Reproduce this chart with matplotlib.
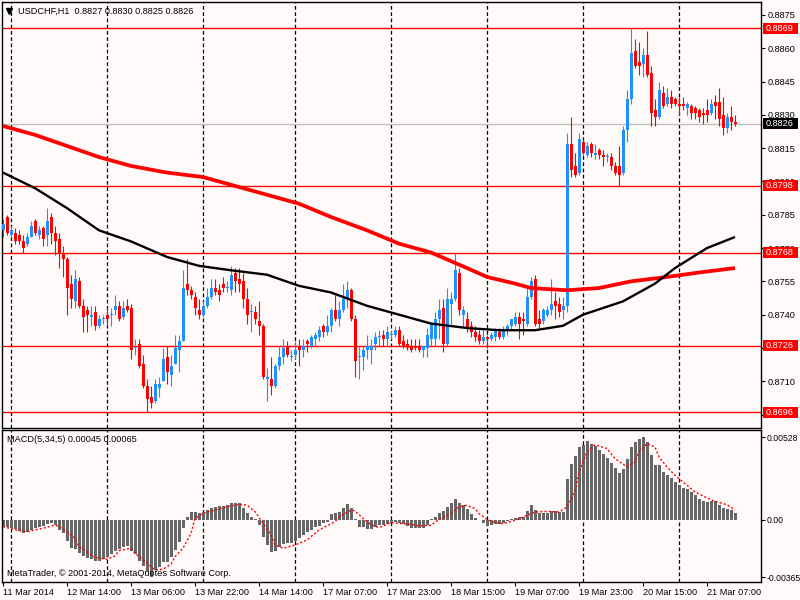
import matplotlib
matplotlib.use("Agg")
import matplotlib.pyplot as plt
from matplotlib.patches import Rectangle
import matplotlib.transforms as mtransforms
import numpy as np

plt.rcParams['font.family'] = ['Liberation Sans', 'DejaVu Sans']

# ---------------- data ----------------
opens = [0.8778,0.8784,0.8776,0.8777,0.8776,0.8773,0.8772,0.8775,0.8782,0.8776,
         0.8779,0.8776,0.8784,0.8777,0.8774,0.8768,0.8765,0.8754,0.8746,0.8755,
         0.8744,0.8742,0.8739,0.8741,0.8735,0.8738,0.8740,0.8740,0.8742,0.8744,
         0.8739,0.8744,0.8743,0.8725,0.8727,0.8718,0.8708,0.8703,0.8701,0.8707,
         0.8710,0.8721,0.8713,0.8718,0.8724,0.8728,0.8754,0.8751,0.8748,0.8742,
         0.8740,0.8744,0.8748,0.8752,0.8751,0.8754,0.8752,0.8751,0.8759,0.8756,
         0.8755,0.8747,0.8741,0.8741,0.8737,0.8735,0.8711,0.8711,0.8708,0.8717,
         0.8721,0.8726,0.8721,0.8722,0.8726,0.8724,0.8728,0.8726,0.8729,0.8730,
         0.8735,0.8732,0.8735,0.8742,0.8738,0.8742,0.8747,0.8751,0.8738,0.8721,
         0.8721,0.8724,0.8724,0.8727,0.8730,0.8731,0.8729,0.8731,0.8731,0.8733,
         0.8728,0.8727,0.8726,0.8726,0.8726,0.8724,0.8725,0.8729,0.8729,0.8738,
         0.8743,0.8727,0.8745,0.8747,0.8759,0.8740,0.8738,0.8735,0.8732,0.8731,
         0.8728,0.8730,0.8729,0.8730,0.8732,0.8730,0.8733,0.8735,0.8736,0.8739,
         0.8738,0.8736,0.8748,0.8756,0.8738,0.8737,0.8740,0.8742,0.8746,0.8745,
         0.8742,0.8744,0.8817,0.8807,0.8804,0.8818,0.8812,0.8817,0.8812,0.8814,
         0.8812,0.8811,0.8811,0.8807,0.8807,0.8804,0.8823,0.8837,0.8859,0.8854,
         0.8853,0.8857,0.8849,0.8832,0.8829,0.8840,0.8835,0.8838,0.8837,0.8835,
         0.8835,0.8833,0.8834,0.8833,0.8832,0.8831,0.8832,0.8831,0.8836,0.8836,
         0.8830,0.8824,0.8829,0.8827]
highs = [0.8783,0.8785,0.8780,0.8779,0.8778,0.8776,0.8777,0.8782,0.8783,0.8780,
         0.8780,0.8788,0.8786,0.8780,0.8777,0.8771,0.8766,0.8758,0.8760,0.8757,
         0.8747,0.8744,0.8744,0.8744,0.8740,0.8740,0.8743,0.8743,0.8749,0.8746,
         0.8746,0.8747,0.8745,0.8729,0.8729,0.8722,0.8711,0.8708,0.8711,0.8712,
         0.8725,0.8726,0.8722,0.8731,0.8731,0.8760,0.8765,0.8753,0.8750,0.8747,
         0.8746,0.8752,0.8756,0.8756,0.8754,0.8757,0.8755,0.8762,0.8761,0.8761,
         0.8759,0.8752,0.8745,0.8744,0.8746,0.8736,0.8716,0.8721,0.8718,0.8726,
         0.8729,0.8728,0.8724,0.8728,0.8729,0.8729,0.8729,0.8731,0.8732,0.8735,
         0.8736,0.8740,0.8743,0.8749,0.8746,0.8754,0.8755,0.8752,0.8740,0.8726,
         0.8726,0.8731,0.8729,0.8732,0.8733,0.8733,0.8735,0.8733,0.8735,0.8735,
         0.8731,0.8729,0.8729,0.8729,0.8729,0.8726,0.8734,0.8736,0.8741,0.8747,
         0.8747,0.8752,0.8750,0.8768,0.8761,0.8744,0.8741,0.8737,0.8735,0.8733,
         0.8733,0.8731,0.8732,0.8734,0.8734,0.8735,0.8736,0.8738,0.8741,0.8741,
         0.8741,0.8753,0.8757,0.8758,0.8742,0.8743,0.8744,0.8756,0.8750,0.8748,
         0.8748,0.8822,0.8829,0.8813,0.8822,0.8819,0.8818,0.8818,0.8817,0.8815,
         0.8814,0.8813,0.8813,0.8809,0.8816,0.8825,0.8841,0.8869,0.8864,0.8863,
         0.8860,0.8868,0.8852,0.8837,0.8845,0.8843,0.8842,0.8841,0.8838,0.8838,
         0.8838,0.8836,0.8835,0.8834,0.8833,0.8833,0.8837,0.8837,0.8839,0.8842,
         0.8838,0.8831,0.8834,0.8830]
lows = [0.8775,0.8776,0.8775,0.8772,0.8772,0.8768,0.8771,0.8775,0.8776,0.8774,
        0.8771,0.8771,0.8772,0.8767,0.8761,0.8757,0.8740,0.8743,0.8743,0.8743,
        0.8732,0.8732,0.8735,0.8733,0.8734,0.8736,0.8735,0.8735,0.8740,0.8737,
        0.8738,0.8741,0.8720,0.8722,0.8716,0.8707,0.8696,0.8698,0.8700,0.8703,
        0.8710,0.8709,0.8708,0.8718,0.8714,0.8728,0.8749,0.8747,0.8740,0.8738,
        0.8739,0.8743,0.8747,0.8749,0.8746,0.8750,0.8750,0.8749,0.8750,0.8750,
        0.8743,0.8736,0.8732,0.8736,0.8731,0.8711,0.8701,0.8704,0.8707,0.8715,
        0.8718,0.8721,0.8719,0.8720,0.8717,0.8721,0.8723,0.8725,0.8726,0.8728,
        0.8730,0.8731,0.8732,0.8737,0.8735,0.8741,0.8743,0.8737,0.8712,0.8711,
        0.8715,0.8720,0.8718,0.8724,0.8726,0.8726,0.8726,0.8729,0.8730,0.8726,
        0.8725,0.8724,0.8723,0.8724,0.8723,0.8721,0.8721,0.8726,0.8726,0.8729,
        0.8723,0.8726,0.8736,0.8746,0.8740,0.8735,0.8732,0.8730,0.8728,0.8727,
        0.8727,0.8725,0.8728,0.8728,0.8729,0.8729,0.8731,0.8733,0.8735,0.8729,
        0.8731,0.8735,0.8747,0.8735,0.8734,0.8736,0.8739,0.8740,0.8738,0.8739,
        0.8738,0.8741,0.8802,0.8802,0.8803,0.8812,0.8811,0.8811,0.8810,0.8810,
        0.8807,0.8809,0.8805,0.8803,0.8798,0.8803,0.8818,0.8835,0.8851,0.8848,
        0.8847,0.8847,0.8825,0.8825,0.8828,0.8833,0.8834,0.8833,0.8834,0.8830,
        0.8832,0.8830,0.8828,0.8828,0.8827,0.8826,0.8827,0.8830,0.8828,0.8825,
        0.8821,0.8822,0.8823,0.8825]
closes = [0.8781,0.8777,0.8778,0.8773,0.8773,0.8770,0.8775,0.8780,0.8777,0.8778,
          0.8774,0.8782,0.8777,0.8773,0.8768,0.8765,0.8752,0.8747,0.8756,0.8744,
          0.8739,0.8740,0.8740,0.8735,0.8738,0.8738,0.8738,0.8740,0.8744,0.8738,
          0.8743,0.8742,0.8724,0.8725,0.8717,0.8708,0.8702,0.8700,0.8709,0.8709,
          0.8720,0.8714,0.8717,0.8725,0.8728,0.8752,0.8751,0.8749,0.8743,0.8740,
          0.8744,0.8748,0.8752,0.8750,0.8749,0.8752,0.8752,0.8758,0.8755,0.8754,
          0.8747,0.8740,0.8741,0.8738,0.8735,0.8712,0.8712,0.8708,0.8717,0.8721,
          0.8725,0.8722,0.8721,0.8724,0.8724,0.8726,0.8727,0.8730,0.8731,0.8733,
          0.8732,0.8735,0.8742,0.8738,0.8742,0.8747,0.8751,0.8738,0.8719,0.8721,
          0.8724,0.8726,0.8726,0.8730,0.8730,0.8729,0.8732,0.8731,0.8733,0.8727,
          0.8726,0.8725,0.8724,0.8725,0.8724,0.8726,0.8731,0.8736,0.8738,0.8742,
          0.8727,0.8747,0.8747,0.8760,0.8742,0.8742,0.8734,0.8732,0.8730,0.8728,
          0.8730,0.8729,0.8731,0.8733,0.8730,0.8733,0.8735,0.8738,0.8739,0.8736,
          0.8737,0.8748,0.8755,0.8736,0.8736,0.8742,0.8742,0.8745,0.8744,0.8741,
          0.8744,0.8817,0.8805,0.8803,0.8819,0.8813,0.8816,0.8813,0.8813,0.8812,
          0.8811,0.8811,0.8807,0.8804,0.8803,0.8823,0.8837,0.8858,0.8852,0.8852,
          0.8857,0.8848,0.8831,0.8829,0.8841,0.8834,0.8838,0.8835,0.8835,0.8834,
          0.8834,0.8835,0.8831,0.8831,0.8829,0.8830,0.8830,0.8835,0.8834,0.8828,
          0.8824,0.8829,0.8827,0.8826]

# moving averages read at sample bars
ma_red_idx = [0, 8, 16, 24, 32, 41, 50, 58, 66, 74, 82, 91, 99, 107, 116, 121,
              128, 132, 141, 149, 157, 166, 174, 183]
ma_red = [0.8825, 0.8821, 0.8816, 0.8811, 0.8807, 0.8804, 0.8802, 0.8798, 0.8794,
          0.8790, 0.8784, 0.8778, 0.8772, 0.8768, 0.8761, 0.8757, 0.8754, 0.8752,
          0.8751, 0.8752, 0.8755, 0.8757, 0.8759, 0.8761]
ma_black_idx = [0, 8, 16, 24, 32, 41, 49, 57, 66, 74, 82, 91, 99, 107, 116, 124,
                133, 140, 145, 155, 163, 168, 176, 183]
ma_black = [0.8804, 0.8797, 0.8788, 0.8778, 0.8773, 0.8766, 0.8762, 0.8760, 0.8758,
            0.8753, 0.8750, 0.8744, 0.8740, 0.8736, 0.8734, 0.8733, 0.8733, 0.8735,
            0.8740, 0.8746, 0.8754, 0.8761, 0.8770, 0.8775]

macd_hist = [-0.00043,-0.00047,-0.00053,-0.00060,-0.00068,-0.00081,-0.00075,-0.00064,-0.00049,-0.00043,
             -0.00038,-0.00026,-0.00021,-0.00032,-0.00064,-0.00085,-0.00134,-0.00177,-0.00186,-0.00209,
             -0.00230,-0.00245,-0.00250,-0.00260,-0.00260,-0.00252,-0.00239,-0.00218,-0.00196,-0.00188,
             -0.00171,-0.00164,-0.00196,-0.00218,-0.00260,-0.00294,-0.00331,-0.00363,-0.00320,-0.00303,
             -0.00271,-0.00267,-0.00235,-0.00192,-0.00143,-0.00049,0.00021,0.00051,0.00051,0.00047,
             0.00049,0.00064,0.00075,0.00085,0.00090,0.00092,0.00096,0.00107,0.00109,0.00107,
             0.00075,0.00043,0.00017,0.00005,-0.00034,-0.00111,-0.00160,-0.00203,-0.00198,-0.00171,
             -0.00154,-0.00149,-0.00145,-0.00132,-0.00117,-0.00096,-0.00075,-0.00064,-0.00047,-0.00038,
             -0.00021,-0.00011,0.00036,0.00043,0.00049,0.00075,0.00102,0.00075,0.00004,-0.00043,
             -0.00047,-0.00060,-0.00058,-0.00045,-0.00034,-0.00030,-0.00023,-0.00017,-0.00013,-0.00017,
             -0.00023,-0.00038,-0.00051,-0.00051,-0.00049,-0.00049,-0.00034,0.00004,0.00019,0.00045,
             0.00058,0.00083,0.00111,0.00137,0.00111,0.00098,0.00068,0.00041,0.00013,-0.00002,
             -0.00017,-0.00038,-0.00030,-0.00026,-0.00023,-0.00017,-0.00009,0.00004,0.00013,0.00019,
             0.00019,0.00058,0.00094,0.00062,0.00045,0.00045,0.00045,0.00058,0.00058,0.00051,
             0.00051,0.00265,0.00356,0.00410,0.00467,0.00478,0.00503,0.00484,0.00474,0.00446,
             0.00425,0.00397,0.00367,0.00333,0.00303,0.00329,0.00388,0.00467,0.00499,0.00516,
             0.00528,0.00499,0.00414,0.00350,0.00350,0.00307,0.00290,0.00269,0.00243,0.00226,
             0.00205,0.00196,0.00179,0.00162,0.00132,0.00119,0.00115,0.00119,0.00119,0.00098,
             0.00077,0.00068,0.00062,0.00045]

signal_idx = [0,4,6,10,13,14,16,18,19,21,23,26,28,29,32,33,36,38,40,42,43,45,47,48,50,
              53,56,59,61,63,65,67,68,70,73,76,79,83,84,87,88,90,92,94,97,99,102,104,
              107,109,112,114,116,118,119,121,123,125,128,130,133,136,139,141,143,144,
              146,148,151,153,156,158,159,161,163,164,166,168,171,173,176,178,181,183]
signal_vals = [-0.00043,-0.00068,-0.00075,-0.00053,-0.00032,-0.00043,-0.00075,-0.00117,-0.00171,
               -0.00203,-0.00239,-0.00252,-0.00230,-0.00196,-0.00181,-0.00213,-0.00277,-0.00320,
               -0.00316,-0.00282,-0.00235,-0.00181,-0.00085,0.00011,0.00043,0.00064,0.00085,
               0.00100,0.00096,0.00053,-0.00021,-0.00096,-0.00160,-0.00181,-0.00160,-0.00128,
               -0.00064,-0.00011,0.00017,0.00064,0.00058,0.00011,-0.00030,-0.00049,-0.00017,
               -0.00021,-0.00028,-0.00038,-0.00034,0.00004,0.00041,0.00083,0.00094,0.00073,
               0.00041,0.00004,-0.00017,-0.00023,-0.00002,0.00019,0.00051,0.00055,0.00051,
               0.00083,0.00179,0.00307,0.00435,0.00482,0.00457,0.00393,0.00339,0.00371,
               0.00435,0.00489,0.00467,0.00403,0.00339,0.00286,0.00222,0.00179,0.00141,
               0.00119,0.00098,0.00065]

level_red = [0.8869, 0.8798, 0.8768, 0.8726, 0.8696]
bid_level = 0.8826
price_ticks = [0.8875, 0.8860, 0.8845, 0.8830, 0.8815, 0.8800, 0.8785, 0.8770,
               0.8755, 0.8740, 0.8725, 0.8710, 0.8695]
macd_ticks = [0.00528, 0.0, -0.00365]
macd_tick_labels = ['0.00528', '0.00', '-0.00365']
x_tick_pos = [0, 16, 32, 48, 64, 80, 96, 112, 128, 144, 160, 176]
x_tick_labels = ['11 Mar 2014', '12 Mar 14:00', '13 Mar 06:00', '13 Mar 22:00',
                 '14 Mar 14:00', '17 Mar 07:00', '17 Mar 23:00', '18 Mar 15:00',
                 '19 Mar 07:00', '19 Mar 23:00', '20 Mar 15:00', '21 Mar 07:00']
day_sep = [2, 26, 50, 73, 97, 121, 145, 169]

title = "USDCHF,H1  0.8827 0.8830 0.8825 0.8826"
macd_title = "MACD(5,34,5) 0.00045 0.00065"
copyright_txt = "MetaTrader, \u00a9 2001-2014, MetaQuotes Software Corp."

# ---------------- style ----------------
BG = '#FFFAFA'
BULL = '#1E90FF'
BEAR = '#FF0000'
FS = 6.6

fig = plt.figure(figsize=(8, 6), dpi=100, facecolor=BG)
W, H = 800.0, 600.0
ax = fig.add_axes([2 / W, 1 - 427.5 / H, 759 / W, 425.5 / H], facecolor=BG)
ax2 = fig.add_axes([2 / W, 1 - 582 / H, 759 / W, 152 / H], facecolor=BG)

n = len(opens)
x = np.arange(n)
o = np.array(opens); h = np.array(highs); l = np.array(lows); c = np.array(closes)
bull = c >= o
cols = np.where(bull, BULL, BEAR)

ax.set_xlim(-0.25, 189.5)
ax.set_ylim(0.868918, 0.888085)
ax2.set_xlim(-0.25, 189.5)
ax2.set_ylim(-0.00397, 0.00576)

# levels
for lv in level_red:
    ax.axhline(lv, color='#FF0000', lw=1.0, zorder=1)
ax.axhline(bid_level, color='#C0C0C0', lw=1.0, zorder=1)

# day separators
for a in (ax, ax2):
    for d in day_sep:
        a.axvline(d, color='black', lw=0.9, dashes=(3, 2), zorder=0.8)

# candles
ax.vlines(x, l, h, colors=cols, lw=0.8, zorder=2)
body_bot = np.minimum(o, c)
body_h = np.maximum(np.abs(c - o), 0.00005)
ax.bar(x, body_h, bottom=body_bot, width=0.75, color=cols, zorder=3, linewidth=0,
       antialiased=False)

# moving averages
ax.plot(ma_red_idx, ma_red, color='#FF0000', lw=2.7, zorder=4, solid_capstyle='butt')
ax.plot(ma_black_idx, ma_black, color='black', lw=1.7, zorder=4, solid_capstyle='butt')

# MACD
ax2.bar(x, macd_hist, width=0.75, color='#666666', zorder=2, linewidth=0,
        antialiased=False)
ax2.plot(signal_idx, signal_vals, color='#FF0000', lw=1.0, dashes=(1.5, 1.5), zorder=3)

# axes styling
for a in (ax, ax2):
    for s in a.spines.values():
        s.set_color('black'); s.set_linewidth(1.0)
    a.yaxis.tick_right()
    a.tick_params(axis='y', direction='out', length=3, width=0.8, pad=2,
                  labelsize=FS, colors='black')

ax.set_yticks(price_ticks)
ax.set_yticklabels(['%.4f' % t for t in price_ticks])
ax.tick_params(axis='x', length=0, labelbottom=False)

ax2.set_yticks(macd_ticks)
ax2.set_yticklabels(macd_tick_labels)
ax2.tick_params(axis='y', pad=1, labelsize=6.2)
ax2.set_xticks(x_tick_pos)
ax2.set_xticklabels(x_tick_labels, ha='left')
ax2.tick_params(axis='x', direction='out', length=3, width=0.8, pad=1.5,
                labelsize=FS, colors='black')

# price label boxes on the right axis
px = (ax.get_ylim()[1] - ax.get_ylim()[0]) / 425.5
bx0 = (762.5 - 2) / 759.0
bw = 35.0 / 759.0
trans = mtransforms.blended_transform_factory(ax.transAxes, ax.transData)
for lv, fc in [(v, '#FF0000') for v in level_red] + [(bid_level, 'black')]:
    r = Rectangle((bx0, lv - 5.5 * px), bw, 11 * px, transform=trans,
                  facecolor=fc, edgecolor='none', clip_on=False, zorder=10)
    ax.add_patch(r)
    ax.text(bx0 + bw / 2, lv, '%.4f' % lv, transform=trans, ha='center', va='center',
            color='white', fontsize=FS, clip_on=False, zorder=11)

# header texts
ax.plot([(9 - 2) / 759.0], [1 - (10.5 - 2) / 425.5], marker='v', color='black',
        markersize=4, transform=ax.transAxes, clip_on=False, zorder=12)
ax.text((18 - 2) / 759.0, 1 - (11 - 2) / 425.5, title, transform=ax.transAxes,
        ha='left', va='center', fontsize=FS, color='black', zorder=12)
ax2.text((7 - 2) / 759.0, 1 - (439.5 - 430) / 152.0, macd_title, transform=ax2.transAxes,
         ha='left', va='center', fontsize=FS, color='black', zorder=12)
ax2.text((7 - 2) / 759.0, 1 - (574 - 430) / 152.0, copyright_txt, transform=ax2.transAxes,
         ha='left', va='center', fontsize=FS, color='black', zorder=12)

fig.savefig('out.png', dpi=100, facecolor=BG)
